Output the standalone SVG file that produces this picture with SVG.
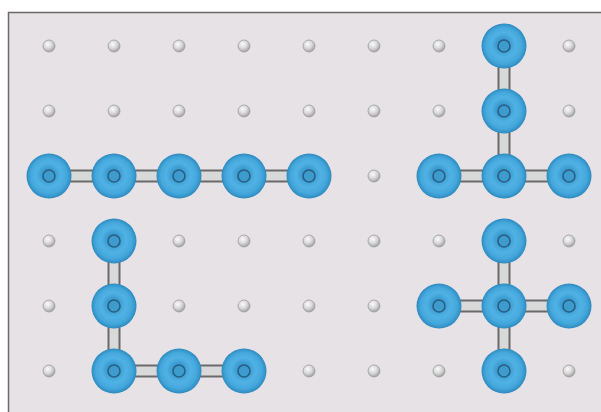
<svg xmlns="http://www.w3.org/2000/svg" width="601" height="412" viewBox="0 0 601 412">
<defs>
<radialGradient id="beadG" cx="0.5" cy="0.5" r="0.5" fx="0.47" fy="0.45">
<stop offset="0" stop-color="#2f88bb"/>
<stop offset="0.32" stop-color="#3e9fd4"/>
<stop offset="0.55" stop-color="#50b2e4"/>
<stop offset="0.8" stop-color="#45a8dc"/>
<stop offset="0.95" stop-color="#3393c8"/>
<stop offset="1" stop-color="#2c86b9"/>
</radialGradient>
<radialGradient id="pegG" cx="0.4" cy="0.35" r="0.7">
<stop offset="0" stop-color="#fbfbfb"/>
<stop offset="0.5" stop-color="#d8d8d8"/>
<stop offset="1" stop-color="#999999"/>
</radialGradient>
<linearGradient id="barH" x1="0" y1="0" x2="0" y2="1">
<stop offset="0" stop-color="#cfcfcf"/>
<stop offset="0.5" stop-color="#e2e2e2"/>
<stop offset="1" stop-color="#cfcfcf"/>
</linearGradient>
<symbol id="bead" overflow="visible">
<circle cx="0" cy="0" r="22.5" fill="url(#beadG)"/>
<circle cx="0" cy="0" r="6" fill="#3d9bce" stroke="#285f82" stroke-width="1.6"/>
</symbol>
<symbol id="peg" overflow="visible">
<circle cx="0" cy="0" r="6" fill="url(#pegG)" stroke="#9d9d9d" stroke-width="0.8"/>
</symbol>
</defs>
<style>
.bar-o{stroke:#6a6a6a;stroke-width:13;}
.bar-i{stroke:#d9d9d9;stroke-width:9;}
</style>
<rect x="0" y="0" width="601" height="412" fill="#ffffff"/>
<rect x="10" y="14" width="600" height="410" fill="#d8d8d8" opacity="0.6"/>
<rect x="8.5" y="12.5" width="600" height="410" fill="#e6e2e6" stroke="#6a6a6a" stroke-width="1.5"/>
<g id="pegs">
<use href="#peg" x="49" y="46"/><use href="#peg" x="114" y="46"/><use href="#peg" x="179" y="46"/><use href="#peg" x="244" y="46"/><use href="#peg" x="309" y="46"/><use href="#peg" x="374" y="46"/><use href="#peg" x="439" y="46"/><use href="#peg" x="569" y="46"/>
<use href="#peg" x="49" y="111"/><use href="#peg" x="114" y="111"/><use href="#peg" x="179" y="111"/><use href="#peg" x="244" y="111"/><use href="#peg" x="309" y="111"/><use href="#peg" x="374" y="111"/><use href="#peg" x="439" y="111"/><use href="#peg" x="569" y="111"/>
<use href="#peg" x="374" y="176"/>
<use href="#peg" x="49" y="241"/><use href="#peg" x="179" y="241"/><use href="#peg" x="244" y="241"/><use href="#peg" x="309" y="241"/><use href="#peg" x="374" y="241"/><use href="#peg" x="439" y="241"/><use href="#peg" x="569" y="241"/>
<use href="#peg" x="49" y="306"/><use href="#peg" x="179" y="306"/><use href="#peg" x="244" y="306"/><use href="#peg" x="309" y="306"/><use href="#peg" x="374" y="306"/>
<use href="#peg" x="49" y="371"/><use href="#peg" x="309" y="371"/><use href="#peg" x="374" y="371"/><use href="#peg" x="439" y="371"/><use href="#peg" x="569" y="371"/>
</g>
<g id="connectors">
<g class="bar-o">
<line x1="49" y1="176" x2="309" y2="176"/>
<line x1="439" y1="176" x2="569" y2="176"/>
<line x1="504" y1="46" x2="504" y2="176"/>
<line x1="114" y1="241" x2="114" y2="371"/>
<line x1="114" y1="371" x2="244" y2="371"/>
<line x1="504" y1="241" x2="504" y2="371"/>
<line x1="439" y1="306" x2="569" y2="306"/>
</g>
<g class="bar-i">
<line x1="49" y1="176" x2="309" y2="176"/>
<line x1="439" y1="176" x2="569" y2="176"/>
<line x1="504" y1="46" x2="504" y2="176"/>
<line x1="114" y1="241" x2="114" y2="371"/>
<line x1="114" y1="371" x2="244" y2="371"/>
<line x1="504" y1="241" x2="504" y2="371"/>
<line x1="439" y1="306" x2="569" y2="306"/>
</g>
</g>
<g id="bead-a1"><use href="#bead" x="49" y="176"/></g>
<g id="bead-a2"><use href="#bead" x="114" y="176"/></g>
<g id="bead-a3"><use href="#bead" x="179" y="176"/></g>
<g id="bead-a4"><use href="#bead" x="244" y="176"/></g>
<g id="bead-a5"><use href="#bead" x="309" y="176"/></g>
<g id="bead-b1"><use href="#bead" x="504" y="46"/></g>
<g id="bead-b2"><use href="#bead" x="504" y="111"/></g>
<g id="bead-b3"><use href="#bead" x="439" y="176"/></g>
<g id="bead-b4"><use href="#bead" x="504" y="176"/></g>
<g id="bead-b5"><use href="#bead" x="569" y="176"/></g>
<g id="bead-c1"><use href="#bead" x="114" y="241"/></g>
<g id="bead-c2"><use href="#bead" x="114" y="306"/></g>
<g id="bead-c3"><use href="#bead" x="114" y="371"/></g>
<g id="bead-c4"><use href="#bead" x="179" y="371"/></g>
<g id="bead-c5"><use href="#bead" x="244" y="371"/></g>
<g id="bead-d1"><use href="#bead" x="504" y="241"/></g>
<g id="bead-d2"><use href="#bead" x="439" y="306"/></g>
<g id="bead-d3"><use href="#bead" x="504" y="306"/></g>
<g id="bead-d4"><use href="#bead" x="569" y="306"/></g>
<g id="bead-d5"><use href="#bead" x="504" y="371"/></g>
</svg>
